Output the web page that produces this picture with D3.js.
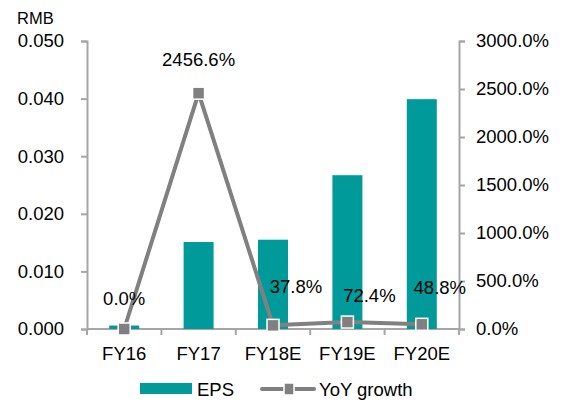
<!DOCTYPE html>
<html>
<head>
<meta charset="utf-8">
<script src="https://cdn.jsdelivr.net/npm/d3@7"></script>
<style>
  body { margin: 0; background: #fff; }
  text { font-family: "Liberation Sans", Arial, sans-serif; fill: #000; }
</style>
</head>
<body>
<svg id="chart" width="564" height="403"></svg>
<script>
// ── Data ──────────────────────────────────────────────────────────────────────
const categories = ['FY16', 'FY17', 'FY18E', 'FY19E', 'FY20E'];
const eps        = [0.0006, 0.0151, 0.0155, 0.0267, 0.0399];
const yoy        = [0.0, 2456.6, 37.8, 72.4, 48.8];
const yoyLabels  = ['0.0%', '2456.6%', '37.8%', '72.4%', '48.8%'];
const leftTicks  = [0, 0.01, 0.02, 0.03, 0.04, 0.05];
const rightTicks = [0, 500, 1000, 1500, 2000, 2500, 3000];

// ── Layout ────────────────────────────────────────────────────────────────────
const LEFT = 87, RIGHT = 459, TOP = 41, BOTTOM = 329;
const FONT = 18.5;
const BAR_COLOR  = '#009a9a';
const LINE_COLOR = '#808080';
const AXIS_COLOR = '#a6a6a6';

const svg = d3.select('#chart');

const x = d3.scaleBand().domain(categories).range([LEFT, RIGHT]);
const yL = d3.scaleLinear().domain([0, 0.05]).range([BOTTOM, TOP]);
const yR = d3.scaleLinear().domain([0, 3000]).range([BOTTOM, TOP]);

// ── Axes ──────────────────────────────────────────────────────────────────────
function styleAxis(g) {
  g.selectAll('path, line').attr('stroke', AXIS_COLOR).attr('stroke-width', 2);
  g.selectAll('text').attr('font-size', FONT).attr('fill', '#000').attr('font-family', null);
}

svg.append('g')
  .attr('transform', `translate(${LEFT},0)`)
  .call(d3.axisLeft(yL).tickValues(leftTicks).tickFormat(d3.format('.3f'))
    .tickSizeInner(6).tickSizeOuter(6).tickPadding(17))
  .call(styleAxis);

svg.append('g')
  .attr('transform', `translate(${RIGHT},0)`)
  .call(d3.axisRight(yR).tickValues(rightTicks).tickFormat(d => d.toFixed(1) + '%')
    .tickSizeInner(6).tickSizeOuter(6).tickPadding(11))
  .call(styleAxis);

// bottom axis with ticks at category boundaries
const xg = svg.append('g');
xg.append('line')
  .attr('x1', LEFT).attr('x2', RIGHT).attr('y1', BOTTOM).attr('y2', BOTTOM)
  .attr('stroke', AXIS_COLOR).attr('stroke-width', 2);
const bounds = categories.map(c => x(c)).concat([x(categories[categories.length - 1]) + x.bandwidth()]);
xg.selectAll('line.tick').data(bounds).join('line')
  .attr('class', 'tick')
  .attr('x1', d => d).attr('x2', d => d)
  .attr('y1', BOTTOM).attr('y2', BOTTOM + 6)
  .attr('stroke', AXIS_COLOR).attr('stroke-width', 2);
xg.selectAll('text').data(categories).join('text')
  .attr('x', d => x(d) + x.bandwidth() / 2)
  .attr('y', BOTTOM + 31)
  .attr('text-anchor', 'middle')
  .attr('font-size', FONT)
  .text(d => d);

svg.append('text')
  .attr('x', 17).attr('y', 24)
  .attr('font-size', 16.5)
  .text('RMB');

// ── Bars ──────────────────────────────────────────────────────────────────────
const BAR_W = 30;
svg.append('g').selectAll('rect').data(categories).join('rect')
  .attr('x', d => x(d) + x.bandwidth() / 2 - BAR_W / 2)
  .attr('width', BAR_W)
  .attr('y', (d, i) => yL(eps[i]))
  .attr('height', (d, i) => BOTTOM - yL(eps[i]))
  .attr('fill', BAR_COLOR);

// ── Line ──────────────────────────────────────────────────────────────────────
const pts = categories.map((c, i) => [x(c) + x.bandwidth() / 2, yR(yoy[i])]);
svg.append('path')
  .attr('d', d3.line()(pts))
  .attr('fill', 'none')
  .attr('stroke', LINE_COLOR)
  .attr('stroke-width', 4)
  .attr('stroke-linejoin', 'round');

svg.append('g').selectAll('rect').data(pts).join('rect')
  .attr('x', d => d[0] - 6).attr('y', d => d[1] - 6)
  .attr('width', 12).attr('height', 12)
  .attr('fill', LINE_COLOR)
  .attr('stroke', '#fff').attr('stroke-width', 1.5);

// ── Data labels ───────────────────────────────────────────────────────────────
const labelOffsets = [[0, -24], [0, -27], [23, -32], [22, -20], [18, -30]];
svg.append('g').selectAll('text').data(pts).join('text')
  .attr('x', (d, i) => d[0] + labelOffsets[i][0])
  .attr('y', (d, i) => d[1] + labelOffsets[i][1])
  .attr('text-anchor', 'middle')
  .attr('font-size', FONT)
  .text((d, i) => yoyLabels[i]);

// ── Legend ────────────────────────────────────────────────────────────────────
const lg = svg.append('g');
lg.append('rect').attr('x', 140).attr('y', 383).attr('width', 52).attr('height', 11).attr('fill', BAR_COLOR);
lg.append('text').attr('x', 197).attr('y', 396).attr('font-size', FONT).text('EPS');
lg.append('line').attr('x1', 262).attr('x2', 314).attr('y1', 389).attr('y2', 389)
  .attr('stroke', LINE_COLOR).attr('stroke-width', 4).attr('stroke-linecap', 'round');
lg.append('rect').attr('x', 284).attr('y', 383).attr('width', 10).attr('height', 12)
  .attr('fill', LINE_COLOR).attr('stroke', '#fff').attr('stroke-width', 1.5);
lg.append('text').attr('x', 319).attr('y', 396).attr('font-size', FONT).text('YoY growth');
</script>
</body>
</html>
